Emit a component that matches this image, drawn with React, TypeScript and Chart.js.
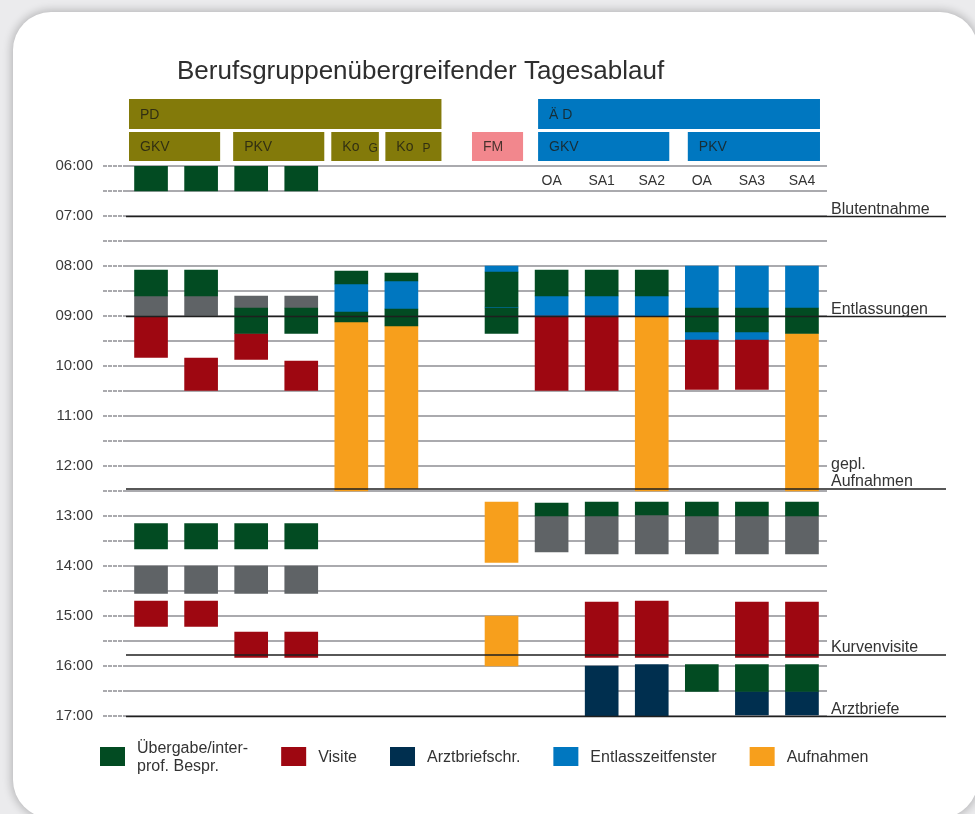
import React, { useEffect, useRef } from 'react';
import { Chart, registerables } from 'chart.js';

Chart.register(...registerables);

// ---------- data ----------
const columns = ['PD GKV 1', 'PD GKV 2', 'PD PKV 1', 'PD PKV 2', 'Ko G', 'Ko P', '', 'FM', 'ÄD GKV OA', 'ÄD GKV SA1', 'ÄD GKV SA2', 'ÄD PKV OA', 'ÄD PKV SA3', 'ÄD PKV SA4'];
const columnSubLabels = ['', '', '', '', '', '', '', '', 'OA', 'SA1', 'SA2', 'OA', 'SA3', 'SA4'];
const hourLabels = ['06:00', '07:00', '08:00', '09:00', '10:00', '11:00', '12:00', '13:00', '14:00', '15:00', '16:00', '17:00'];
const timeMin = 6;
const timeMax = 17;

// segments [start, end] in hours, one list per column
const uebergabe = [
  [[6, 6.5], [8.08, 8.6], [13.15, 13.66]],
  [[6, 6.5], [8.08, 8.6], [13.15, 13.66]],
  [[6, 6.5], [8.84, 9.35], [13.15, 13.66]],
  [[6, 6.5], [8.84, 9.35], [13.15, 13.66]],
  [[8.1, 8.36], [8.92, 9.12]],
  [[8.14, 8.3], [8.86, 9.2]],
  [],
  [[8.12, 8.82], [8.84, 9.35]],
  [[8.08, 8.6], [12.74, 13.0]],
  [[8.08, 8.6], [12.72, 13.0]],
  [[8.08, 8.6], [12.72, 12.98]],
  [[8.84, 9.32], [12.72, 13.0], [15.97, 16.51]],
  [[8.84, 9.32], [12.72, 13.0], [15.97, 16.51]],
  [[8.84, 9.35], [12.72, 13.0], [15.97, 16.51]],
];
const besprechung = [
  [[8.6, 9.0], [14.0, 14.55]],
  [[8.6, 9.0], [14.0, 14.55]],
  [[8.6, 8.84], [14.0, 14.55]],
  [[8.6, 8.84], [14.0, 14.55]],
  [], [], [], [],
  [[13.0, 13.72]],
  [[13.0, 13.76]],
  [[12.98, 13.76]],
  [[13.0, 13.76]],
  [[13.0, 13.76]],
  [[13.0, 13.76]],
];
const visite = [
  [[9.0, 9.83], [14.7, 15.21]],
  [[9.84, 10.49], [14.7, 15.21]],
  [[9.35, 9.87], [15.32, 15.83]],
  [[9.9, 10.49], [15.32, 15.83]],
  [], [], [], [],
  [[9.0, 10.49]],
  [[9.0, 10.49], [14.72, 15.83]],
  [[14.7, 15.83]],
  [[9.48, 10.47]],
  [[9.48, 10.47], [14.72, 15.83]],
  [[14.72, 15.83]],
];
const arztbriefschr = [
  [], [], [], [], [], [], [], [], [],
  [[16.0, 17.0]],
  [[15.97, 17.0]],
  [],
  [[16.51, 16.98]],
  [[16.51, 16.98]],
];
const entlasszeitfenster = [
  [], [], [], [],
  [[8.36, 8.92]],
  [[8.3, 8.86]],
  [],
  [[8.0, 8.12], [8.82, 8.84]],
  [[8.6, 9.0]],
  [[8.6, 9.0]],
  [[8.6, 9.0]],
  [[8.0, 8.84], [9.32, 9.48]],
  [[8.0, 8.84], [9.32, 9.48]],
  [[8.0, 8.84]],
];
const aufnahmen = [
  [], [], [], [],
  [[9.12, 12.5]],
  [[9.2, 12.45]],
  [],
  [[12.72, 13.93], [15.0, 16.0]],
  [], [],
  [[9.0, 12.5]],
  [], [],
  [[9.35, 12.5]],
];

const seriesKeys = ['uebergabe', 'besprechung', 'visite', 'arztbriefschr', 'entlasszeitfenster', 'aufnahmen'];
const seriesData = [uebergabe, besprechung, visite, arztbriefschr, entlasszeitfenster, aufnahmen];
const seriesLegend = [['Übergabe/inter-', 'prof. Bespr.'], null, ['Visite'], ['Arztbriefschr.'], ['Entlasszeitfenster'], ['Aufnahmen']];

const markerTimes = [7, 9, 12.45, 15.77, 17];
const markerLabels = [['Blutentnahme'], ['Entlassungen'], ['gepl.', 'Aufnahmen'], ['Kurvenvisite'], ['Arztbriefe']];

const topHeaders = [
  { label: 'PD', suffix: '', group: 'pd' },
  { label: 'Ä D', suffix: '', group: 'ad' },
];
const subHeaders = [
  { label: 'GKV', suffix: '', group: 'pd' },
  { label: 'PKV', suffix: '', group: 'pd' },
  { label: 'Ko', suffix: 'G', group: 'pd' },
  { label: 'Ko', suffix: 'P', group: 'pd' },
  { label: 'FM', suffix: '', group: 'fm' },
  { label: 'GKV', suffix: '', group: 'ad' },
  { label: 'PKV', suffix: '', group: 'ad' },
];
const titleText = 'Berufsgruppenübergreifender Tagesablauf';

// ---------- layout / styles ----------
// header box extents expressed on the category scale (column index units)
const topHeaderSpans = [[-0.44, 5.8], [7.73, 13.36]];
const subHeaderSpans = [[-0.44, 1.38], [1.64, 3.46], [3.6, 4.55], [4.68, 5.8], [6.41, 7.43], [7.73, 10.35], [10.72, 13.36]];

const FONT = "'Liberation Sans', Arial, sans-serif";
const seriesColors: Record<string, string> = {
  uebergabe: '#024b22',
  besprechung: '#5f6366',
  visite: '#9e0711',
  arztbriefschr: '#002f4f',
  entlasszeitfenster: '#0077c0',
  aufnahmen: '#f79f1c',
};
const groupColors: Record<string, string> = { pd: '#837a0a', ad: '#0077c0', fm: '#f2878d' };

function buildDatasets() {
  const sets: any[] = [];
  seriesData.forEach((series, si) => {
    const layers = Math.max(...series.map((c) => c.length));
    for (let l = 0; l < layers; l++) {
      sets.push({
        label: seriesKeys[si] + '_' + l,
        data: series.map((c) => (c[l] ? c[l] : null)),
        backgroundColor: seriesColors[seriesKeys[si]],
        borderWidth: 0,
        borderSkipped: false,
        grouped: false,
        barThickness: 33,
      });
    }
  });
  return sets;
}

function drawHeader(ctx: any, h: any, l: number, r: number, top: number, hgt: number) {
  ctx.fillStyle = groupColors[h.group];
  ctx.fillRect(l, top, r - l, hgt);
  ctx.fillStyle = 'rgba(28,28,20,0.8)';
  ctx.font = `14px ${FONT}`;
  ctx.textAlign = 'left';
  ctx.textBaseline = 'middle';
  ctx.fillText(h.label, l + 11, top + hgt / 2 + 1);
  if (h.suffix) {
    const w = ctx.measureText(h.label).width;
    ctx.font = `12px ${FONT}`;
    ctx.fillText(h.suffix, l + 11 + w + 9, top + hgt / 2 + 2);
  }
}

const decorPlugin = {
  id: 'decor',
  afterDatasetsDraw(chart: any) {
    const { ctx, chartArea: ca, scales } = chart;
    const y = scales.y;
    ctx.save();
    markerTimes.forEach((t, i) => {
      const py = y.getPixelForValue(t) + 0.5;
      ctx.strokeStyle = '#1f1f1f';
      ctx.lineWidth = 1.5;
      ctx.beginPath();
      ctx.moveTo(ca.left, py);
      ctx.lineTo(ca.right + 119, py);
      ctx.stroke();
      const lines = markerLabels[i];
      ctx.fillStyle = '#333';
      ctx.font = `16px ${FONT}`;
      ctx.textAlign = 'left';
      ctx.textBaseline = 'alphabetic';
      lines.forEach((s, j) => {
        ctx.fillText(s, ca.right + 4, py - 3 - (lines.length - 1 - j) * 17);
      });
    });
    ctx.restore();
  },
  afterDraw(chart: any) {
    const { ctx, chartArea: ca, scales } = chart;
    const x = scales.x;
    ctx.save();

    // title
    ctx.fillStyle = '#2e2e2e';
    ctx.font = `26px ${FONT}`;
    ctx.textAlign = 'left';
    ctx.textBaseline = 'alphabetic';
    ctx.fillText(titleText, 177, 79);

    // header boxes
    topHeaders.forEach((h, i) => {
      const [a, b] = topHeaderSpans[i];
      drawHeader(ctx, h, x.getPixelForValue(a), x.getPixelForValue(b), ca.top - 67, 30);
    });
    subHeaders.forEach((h, i) => {
      const [a, b] = subHeaderSpans[i];
      drawHeader(ctx, h, x.getPixelForValue(a), x.getPixelForValue(b), ca.top - 34, 29);
    });

    // sub labels (OA, SA1 ...)
    ctx.fillStyle = '#333';
    ctx.font = `14px ${FONT}`;
    ctx.textAlign = 'center';
    ctx.textBaseline = 'middle';
    columnSubLabels.forEach((s, i) => {
      if (s) ctx.fillText(s, x.getPixelForValue(i), ca.top + 15);
    });

    // legend
    ctx.textAlign = 'left';
    ctx.textBaseline = 'alphabetic';
    ctx.font = `16px ${FONT}`;
    let lx = ca.left - 26;
    const boxTop = ca.bottom + 31;
    const cy = boxTop + 9.5;
    seriesLegend.forEach((lines, si) => {
      if (!lines) return;
      ctx.fillStyle = seriesColors[seriesKeys[si]];
      ctx.fillRect(lx, boxTop, 25, 19);
      ctx.fillStyle = '#333';
      let maxW = 0;
      lines.forEach((s, j) => {
        const off = (j - (lines.length - 1) / 2) * 18;
        ctx.fillText(s, lx + 37, cy + 5.7 + off);
        maxW = Math.max(maxW, ctx.measureText(s).width);
      });
      lx += 37 + maxW + 33;
    });
    ctx.restore();
  },
};

export default function App() {
  const ref = useRef<HTMLCanvasElement>(null);
  useEffect(() => {
    if (!ref.current) return;
    Chart.defaults.font.family = FONT;
    const chart = new Chart(ref.current, {
      type: 'bar',
      data: { labels: columns, datasets: buildDatasets() },
      options: {
        animation: false,
        responsive: false,
        maintainAspectRatio: false,
        layout: { padding: { top: 166, right: 148, bottom: 98, left: 0 } },
        plugins: { legend: { display: false }, tooltip: { enabled: false }, title: { display: false } },
        scales: {
          x: { type: 'category', offset: true, display: false, grid: { display: false } },
          y: {
            type: 'linear',
            min: timeMin,
            max: timeMax,
            reverse: true,
            afterFit(scale: any) {
              scale.width = 126;
            },
            ticks: {
              stepSize: 0.5,
              autoSkip: false,
              maxTicksLimit: 40,
              padding: 10,
              color: '#3a3a3a',
              font: { size: 15, family: FONT },
              callback: (v: any) => (Number.isInteger(v) ? hourLabels[v - timeMin] : ''),
            },
            grid: {
              color: '#aaaaae',
              lineWidth: 2,
              borderDash: [4, 1],
              tickBorderDash: [4, 1],
              tickColor: '#aaaaae',
              tickWidth: 2,
              tickLength: 23,
              drawTicks: true,
            },
            border: { display: false },
          },
        },
      } as any,
      plugins: [decorPlugin],
    });
    return () => chart.destroy();
  }, []);

  return (
    <div style={{ position: 'fixed', left: 0, top: 0, width: 975, height: 814, background: '#ebebed', overflow: 'hidden' }}>
      <div
        style={{
          position: 'absolute',
          left: 13,
          top: 12,
          width: 965,
          height: 806,
          borderRadius: 38,
          background: '#ffffff',
          boxShadow: '0 0 9px 2px rgba(0,0,0,0.22)',
        }}
      />
      <canvas ref={ref} width={975} height={814} style={{ position: 'absolute', left: 0, top: 0, width: 975, height: 814 }} />
    </div>
  );
}
